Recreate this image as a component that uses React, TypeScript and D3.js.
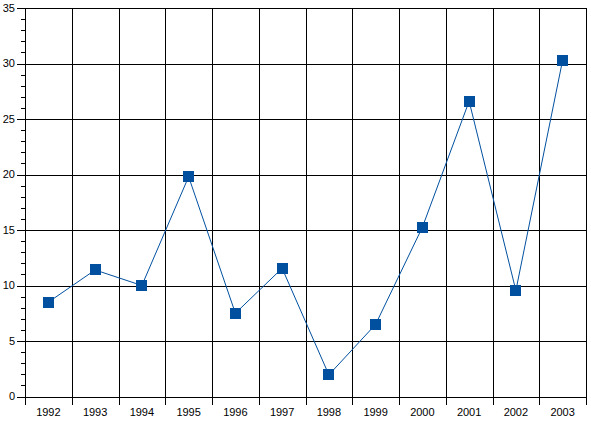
import React, { useEffect, useRef } from 'react';
import * as d3 from 'd3';

const years = ['1992', '1993', '1994', '1995', '1996', '1997', '1998', '1999', '2000', '2001', '2002', '2003'];
const values = [8.5, 11.4, 10.0, 19.8, 7.5, 11.55, 1.95, 6.5, 15.25, 26.6, 9.55, 30.3];
const yTicks = [0, 5, 10, 15, 20, 25, 30, 35];

function LineChart() {
  const ref = useRef<any>(null);
  const dims = { width: 591, height: 423 };
  const plot = { left: 25, right: 586, top: 8, bottom: 396.5 };

  useEffect(() => {
    const svg = d3.select(ref.current).attr('width', dims.width).attr('height', dims.height);
    svg.selectAll('*').remove();

    const x = d3.scaleBand().domain(years).range([plot.left, plot.right]);
    const y = d3.scaleLinear().domain([0, 35]).range([plot.bottom, plot.top]);
    const px = (v: number) => Math.round(v) + 0.5;

    const g = svg.append('g').attr('shape-rendering', 'crispEdges');

    // horizontal grid + major ticks
    yTicks.forEach((t) => {
      g.append('line')
        .attr('x1', plot.left - 8)
        .attr('x2', plot.right)
        .attr('y1', px(y(t)))
        .attr('y2', px(y(t)))
        .attr('stroke', '#000');
    });
    // minor ticks
    d3.range(0, 36).filter((t) => t % 5 !== 0).forEach((t) => {
      g.append('line')
        .attr('x1', plot.left - 4)
        .attr('x2', plot.left)
        .attr('y1', px(y(t)))
        .attr('y2', px(y(t)))
        .attr('stroke', '#000');
    });

    // vertical grid at band boundaries
    const bounds = years.map((d) => x(d) as number).concat([plot.right]);
    bounds.forEach((b, i) => {
      g.append('line')
        .attr('x1', px(b))
        .attr('x2', px(b))
        .attr('y1', plot.top)
        .attr('y2', i === 0 ? plot.bottom + 8 : plot.bottom + 8)
        .attr('stroke', '#000');
    });

    // y labels
    svg.append('g')
      .selectAll('text')
      .data(yTicks)
      .join('text')
      .attr('x', 15)
      .attr('y', (d) => y(d))
      .attr('dy', '0.35em')
      .attr('text-anchor', 'end')
      .attr('font-family', 'Liberation Sans, Arial, sans-serif')
      .attr('font-size', 11)
      .attr('fill', '#000')
      .text((d) => d);

    // x labels
    svg.append('g')
      .selectAll('text')
      .data(years)
      .join('text')
      .attr('x', (d) => (x(d) as number) + x.bandwidth() / 2)
      .attr('y', 412)
      .attr('dy', '0.35em')
      .attr('text-anchor', 'middle')
      .attr('font-family', 'Liberation Sans, Arial, sans-serif')
      .attr('font-size', 11)
      .attr('fill', '#000')
      .text((d) => d);

    const line: any = d3
      .line()
      .x((d: any, i: number) => (x(years[i]) as number) + x.bandwidth() / 2)
      .y((d: any) => y(d));

    svg.append('path')
      .datum(values)
      .attr('d', line)
      .attr('fill', 'none')
      .attr('stroke', '#0050a0')
      .attr('stroke-width', 1);

    const s = 11;
    svg.append('g')
      .selectAll('rect')
      .data(values)
      .join('rect')
      .attr('x', (d, i) => Math.round((x(years[i]) as number) + x.bandwidth() / 2 - s / 2))
      .attr('y', (d) => Math.round(y(d) - s / 2))
      .attr('width', s)
      .attr('height', s)
      .attr('fill', '#00509f')
      .attr('shape-rendering', 'crispEdges');
  });

  return (
    <div style={{ position: 'absolute', left: 0, top: 0, background: '#fff' }}>
      <svg ref={ref} style={{ display: 'block' }}></svg>
    </div>
  );
}

export default LineChart;
